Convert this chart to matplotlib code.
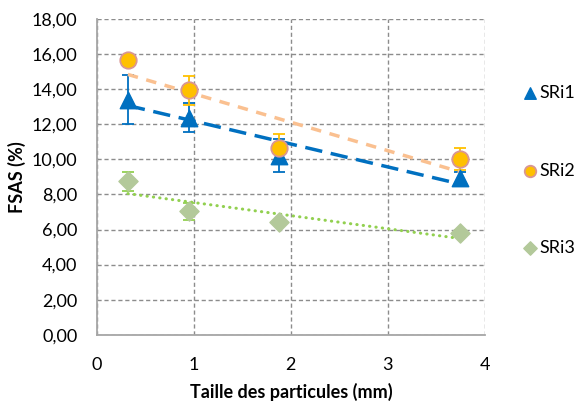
import numpy as np
import matplotlib.pyplot as plt
from matplotlib.ticker import FuncFormatter

plt.rcParams['font.family'] = ['Lato', 'DejaVu Sans']

# taille des particules (mm)
taille = [0.32, 0.95, 1.88, 3.74]

sri1 = [13.40, 12.38, 10.20, 8.95]
sri1_err = [1.38, 0.85, 0.95, 0.30]
sri2 = [15.65, 13.92, 10.64, 10.03]
sri2_err = [0.10, 0.85, 0.80, 0.64]
sri3 = [8.74, 7.03, 6.42, 5.80]
sri3_err = [0.53, 0.50, 0.10, 0.15]

labels = ['SRi1', 'SRi2', 'SRi3']

fig = plt.figure(figsize=(5.8, 4.01), dpi=100)
ax = fig.add_axes([0.167, 0.165, 0.669, 0.788])

x = np.array(taille)

# erreurs
ax.errorbar(x, sri1, yerr=sri1_err, fmt='none', ecolor='#0070C0', elinewidth=1.3, capsize=4, capthick=1.3, zorder=3)
ax.errorbar(x, sri2, yerr=sri2_err, fmt='none', ecolor='#FFC000', elinewidth=1.3, capsize=4, capthick=1.3, zorder=3)
ax.errorbar(x, sri3, yerr=sri3_err, fmt='none', ecolor='#92D050', elinewidth=1.3, capsize=4, capthick=1.3, zorder=3)

# courbes de tendance
for serie, col, ls in [(sri1, '#0070C0', (0, (5, 2.5))),
                       (sri2, '#FAC090', (0, (3, 2.5))),
                       (sri3, '#92D050', (0, (0.1, 2)))]:
    a, b = np.polyfit(x, serie, 1)
    xx = np.array([x[0], x[-1]])
    kw = dict(dash_capstyle='round') if serie is sri3 else {}
    ax.plot(xx, a * xx + b, color=col, lw=2.5 if serie is not sri3 else 2.2, linestyle=ls, zorder=4, **kw)

# points
ax.scatter(x, sri1, marker='^', s=140, color='#0070C0', zorder=5, label=labels[0])
ax.scatter(x, sri2, marker='o', s=140, color='#FFC000', edgecolors='#D99694', linewidths=1.3, zorder=5, label=labels[1])
ax.scatter(x, sri3, marker='D', s=95, color='#B3C99A', zorder=5, label=labels[2])

ax.set_xlim(0, 4)
ax.set_ylim(0, 18)
ax.set_xticks(range(0, 5))
ax.set_yticks(np.arange(0, 19, 2))
ax.yaxis.set_major_formatter(FuncFormatter(lambda v, p: f"{v:.2f}".replace('.', ',')))
ax.tick_params(length=0, labelsize=13, labelcolor='black')
ax.tick_params(axis='x', pad=16)
ax.tick_params(axis='y', pad=14)

ax.grid(True, color='#8C8C8C', linestyle=(0, (3, 2)), linewidth=1)
ax.set_axisbelow(True)
for s in ['top', 'right']:
    ax.spines[s].set_visible(False)
for s in ['left', 'bottom']:
    ax.spines[s].set_color('#A6A6A6')
    ax.spines[s].set_linewidth(1.3)

ax.set_xlabel('Taille des particules (mm)', fontsize=13, fontweight='bold', labelpad=7)
ax.set_ylabel('FSAS (%)', fontsize=13, fontweight='bold', labelpad=4)

leg = fig.legend(loc='upper left', bbox_to_anchor=(0.87, 0.828), frameon=False,
                 fontsize=13, labelspacing=3.4, handletextpad=0.05, handlelength=1.0,
                 markerscale=0.7)

fig.savefig('out.png', dpi=100)
